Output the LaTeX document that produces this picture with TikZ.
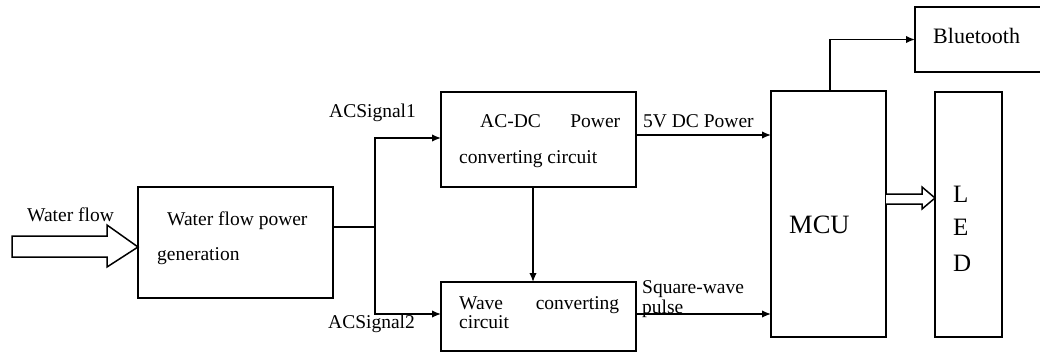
\documentclass[tikz,border=0pt]{standalone}
\usepackage{fontspec}
\setmainfont{Liberation Serif}
\usetikzlibrary{arrows.meta,calc}
\begin{document}
\begin{tikzpicture}[x=1pt,y=-1pt,
  blk/.style={draw,line width=1.6pt,rectangle,inner sep=0pt,outer sep=0pt,anchor=north west},
  lbl/.style={anchor=base west,inner sep=0pt,font=\fontsize{19.5}{22}\selectfont},
  arr/.style={line width=1.5pt,-{Latex[length=9pt,width=7.5pt]}},
  wire/.style={line width=1.5pt},
  hollow/.style={draw,line width=1.5pt,fill=white,line join=miter}]
\useasboundingbox (0,0) rectangle (1040,356);
% boxes
\node[blk,minimum width=195pt,minimum height=111pt] (wpg) at (138,187) {};
\node[blk,minimum width=195pt,minimum height=95pt] (acdc) at (441,92) {};
\node[blk,minimum width=195pt,minimum height=69pt] (wave) at (441,282) {};
\node[blk,minimum width=115pt,minimum height=246pt] (mcu) at (771,91) {};
\node[blk,minimum width=130pt,minimum height=65pt] (bt) at (915,7) {};
\node[blk,minimum width=67pt,minimum height=245pt] (led) at (935,92) {};
% texts
\node[lbl] (twf) at (27,221) {Water flow};
\node[lbl] (twpg1) at (167,225) {Water flow power};
\node[lbl] (twpg2) at (157,260) {generation};
\node[lbl] (tac1) at (329,117) {ACSignal1};
\node[lbl] (tac2) at (328,328) {ACSignal2};
\node[lbl] (tacdc1) at (480,127) {\makebox[140pt][s]{AC-DC Power}};
\node[lbl] (tacdc2) at (459,163) {converting circuit};
\node[lbl] (twave1) at (459,309) {\makebox[160pt][s]{Wave converting}};
\node[lbl] (twave2) at (459,328) {circuit};
\node[lbl] (t5v) at (643,127) {5V DC Power};
\node[lbl] (tsq1) at (642,293) {Square-wave};
\node[lbl] (tsq2) at (642,313) {pulse};
\node[lbl,font=\fontsize{22}{24}\selectfont] (tbt) at (933,43) {Bluetooth};
\node[lbl,font=\fontsize{26.5}{28}\selectfont] (tmcu) at (789,233) {MCU};
\node[lbl,font=\fontsize{25}{27}\selectfont] (tl) at (953,202) {L};
\node[lbl,font=\fontsize{25}{27}\selectfont] (te) at (953,235) {E};
\node[lbl,font=\fontsize{25}{27}\selectfont] (td) at (953,271) {D};
% connectors
\coordinate (wout) at (333,227);
\coordinate (split) at (375,227);
\draw[wire] (wout) -- (split);
\draw[arr] (split) |- (441,138);
\draw[arr] (split) |- (441,314);
\draw[arr] (636,135) -- (771,135);
\draw[arr] (636,314) -- (771,314);
\draw[arr] (533,187) -- (533,282);
\draw[arr] (830,91) |- (bt.west);
% hollow arrows
\draw[hollow] (12,236) -- (107,236) -- (107,225) -- (138,247) -- (107,267) -- (107,257) -- (12,257) -- cycle;
\draw[hollow] (886,194) -- (922,194) -- (922,187) -- (935,198) -- (922,209) -- (922,204) -- (886,204);
\end{tikzpicture}
\end{document}
